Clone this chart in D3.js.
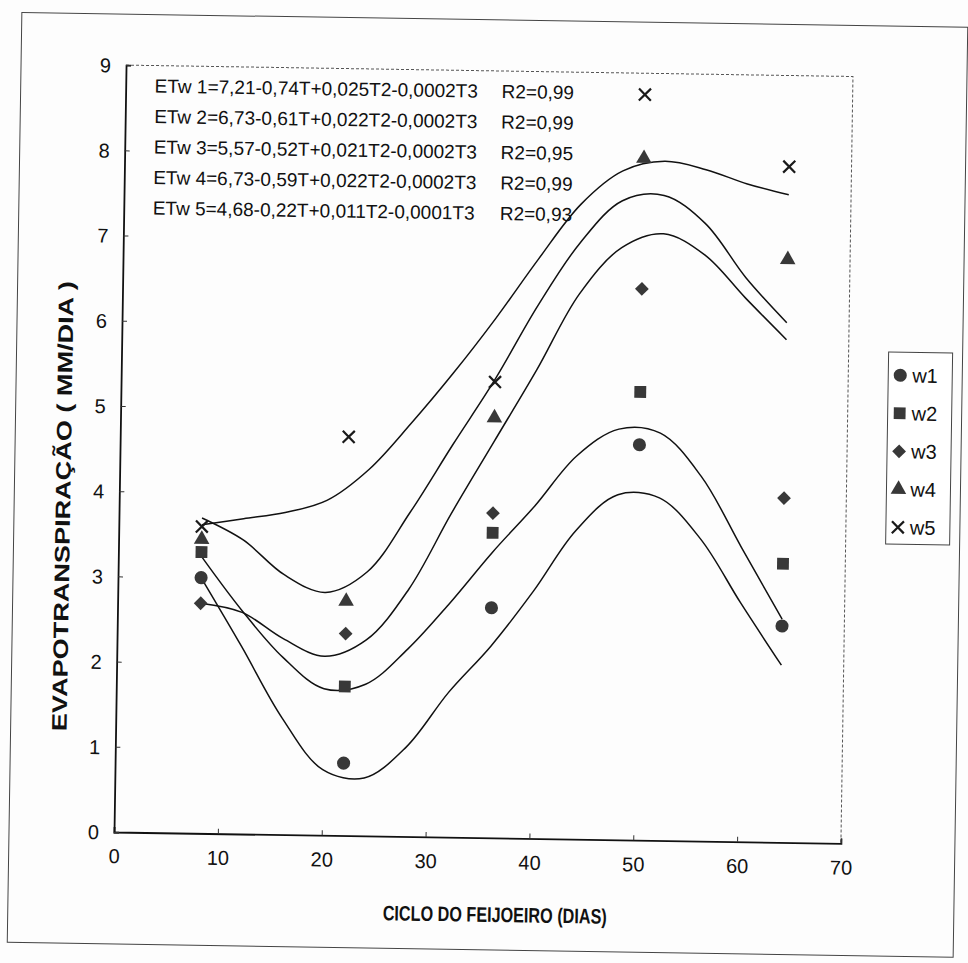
<!DOCTYPE html>
<html>
<head>
<meta charset="utf-8">
<script src="https://cdn.jsdelivr.net/npm/d3@7.9.0/dist/d3.min.js"></script>
<style>
  body { margin: 0; background: #fff; }
  svg { display: block; }
  text { font-family: "Liberation Sans", Arial, sans-serif; fill: #111; }
</style>
</head>
<body>
<svg id="chart" width="968" height="963"></svg>
<script>
// sampling days and measured ET (mm/dia) per treatment
const days = [8, 22, 36, 50, 64];
const w1 = [3.00, 0.85, 2.70, 4.64, 2.54];
const w2 = [3.30, 1.75, 3.58, 5.26, 3.27];
const w3 = [2.70, 2.37, 3.81, 6.47, 4.04];
const w4 = [3.45, 2.75, 4.93, 8.00, 6.84];
const w5 = [3.60, 4.68, 5.35, 8.75, 7.93];

// fitted curves
const fitDays = [8, 12, 16, 20, 24, 28, 32, 36, 40, 44, 48, 52, 56, 60, 64];
const fitW1 = [3.00, 2.20, 1.37, 0.77, 0.68, 1.05, 1.70, 2.25, 2.90, 3.62, 4.05, 4.02, 3.55, 2.80, 2.08];
const fitW2 = [3.25, 2.62, 2.08, 1.72, 1.78, 2.20, 2.75, 3.35, 3.90, 4.50, 4.82, 4.78, 4.28, 3.45, 2.62];
const fitW3 = [2.70, 2.60, 2.30, 2.10, 2.30, 2.90, 3.80, 4.65, 5.50, 6.40, 6.95, 7.12, 6.88, 6.38, 5.90];
const fitW4 = [3.70, 3.45, 3.05, 2.85, 3.10, 3.80, 4.60, 5.38, 6.25, 7.00, 7.50, 7.57, 7.25, 6.62, 6.10];
const fitW5 = [3.62, 3.70, 3.78, 3.93, 4.30, 4.85, 5.45, 6.10, 6.80, 7.45, 7.85, 7.97, 7.88, 7.72, 7.60];

const seriesNames = ["w1", "w2", "w3", "w4", "w5"];
const equations = [
  "ETw 1=7,21-0,74T+0,025T2-0,0002T3",
  "ETw 2=6,73-0,61T+0,022T2-0,0002T3",
  "ETw 3=5,57-0,52T+0,021T2-0,0002T3",
  "ETw 4=6,73-0,59T+0,022T2-0,0002T3",
  "ETw 5=4,68-0,22T+0,011T2-0,0001T3"
];
const r2Labels = ["R2=0,99", "R2=0,99", "R2=0,95", "R2=0,99", "R2=0,93"];
const xTicks = [0, 10, 20, 30, 40, 50, 60, 70];
const yTicks = [0, 1, 2, 3, 4, 5, 6, 7, 8, 9];

const svg = d3.select("#chart");
svg.append("rect").attr("width", 968).attr("height", 963).attr("fill", "#fdfdfd");

// the scan is tilted a little, so the whole page is drawn in a rotated group
const page = svg.append("g").attr("transform", "rotate(0.9, 114, 832)");

const x = d3.scaleLinear().domain([0, 70]).range([114, 841]);
const y = d3.scaleLinear().domain([0, 9]).range([832, 65]);

// outer frame of the figure
page.append("rect")
  .attr("x", 9).attr("y", 14).attr("width", 946).attr("height", 930)
  .attr("fill", "none").attr("stroke", "#444").attr("stroke-width", 1);

// plot area border (dashed, top and right)
page.append("path")
  .attr("d", `M${x(0)},${y(9)}H${x(70)}V${y(0)}`)
  .attr("fill", "none").attr("stroke", "#555").attr("stroke-width", 1)
  .attr("stroke-dasharray", "3,2");

// axes
const xAxis = d3.axisBottom(x).tickValues(xTicks).tickSize(-5).tickPadding(17);
const yAxis = d3.axisLeft(y).tickValues(yTicks).tickSize(-5).tickPadding(15);

const gx = page.append("g").attr("transform", `translate(0,${y(0)})`).call(xAxis);
const gy = page.append("g").attr("transform", `translate(${x(0)},0)`).call(yAxis);
[gx, gy].forEach(g => {
  g.select(".domain").attr("stroke", "#111").attr("stroke-width", 1.8);
  g.selectAll(".tick line").attr("stroke", "#333").attr("stroke-width", 1);
  g.selectAll(".tick text")
    .attr("font-size", 20).attr("fill", "#111")
    .attr("font-family", "'Liberation Sans', Arial, sans-serif");
});
gy.selectAll(".tick text").attr("dy", "0.35em");

// axis titles
page.append("text")
  .attr("x", 496).attr("y", 916)
  .attr("text-anchor", "middle")
  .attr("font-size", 21).attr("font-weight", "bold")
  .attr("textLength", 224).attr("lengthAdjust", "spacingAndGlyphs")
  .text("CICLO DO FEIJOEIRO (DIAS)");

page.append("text")
  .attr("transform", "translate(65,507) rotate(-90)")
  .attr("text-anchor", "middle")
  .attr("font-size", 21).attr("font-weight", "bold")
  .attr("textLength", 450).attr("lengthAdjust", "spacingAndGlyphs")
  .text("EVAPOTRANSPIRAÇÃO ( MM/DIA )");

// equations
equations.forEach((eq, i) => {
  const ty = 92 + i * 30.5;
  page.append("text").attr("x", 143).attr("y", ty).attr("font-size", 19).text(eq);
  page.append("text").attr("x", 490).attr("y", ty).attr("font-size", 19).text(r2Labels[i]);
});

// fitted curves
const fits = [fitW1, fitW2, fitW3, fitW4, fitW5];
const line = d3.line()
  .x(d => x(d[0]))
  .y(d => y(d[1]))
  .curve(d3.curveCatmullRom.alpha(0.5));

fits.forEach(f => {
  page.append("path")
    .attr("d", line(fitDays.map((t, i) => [t, f[i]])))
    .attr("fill", "none").attr("stroke", "#111").attr("stroke-width", 1.5);
});

// markers
const markColor = "#383838";
const shapes = [
  { type: d3.symbolCircle, size: 135, rot: 0 },
  { type: d3.symbolSquare, size: 140, rot: 0 },
  { type: d3.symbolSquare, size: 95, rot: 45 },
  { type: d3.symbolTriangle, size: 105, rot: 0 },
  { type: null }
];

function drawMarker(g, k, px, py) {
  const s = shapes[k];
  if (s.type) {
    g.append("path")
      .attr("d", d3.symbol().type(s.type).size(s.size)())
      .attr("transform", `translate(${px},${py}) rotate(${s.rot})`)
      .attr("fill", markColor);
  } else {
    g.append("path")
      .attr("d", "M-6,-6L6,6M6,-6L-6,6")
      .attr("transform", `translate(${px},${py})`)
      .attr("fill", "none").attr("stroke", "#1a1a1a").attr("stroke-width", 2.2);
  }
}

const series = [w1, w2, w3, w4, w5];
series.forEach((vals, k) => {
  vals.forEach((v, i) => drawMarker(page, k, x(days[i]), y(v)));
});

// legend
const legend = page.append("g").attr("transform", "translate(881,340)");
legend.append("rect")
  .attr("width", 64).attr("height", 192)
  .attr("fill", "#fff").attr("stroke", "#444").attr("stroke-width", 1);
seriesNames.forEach((name, k) => {
  const ly = 23 + k * 38;
  drawMarker(legend, k, 12, ly);
  legend.append("text")
    .attr("x", 24).attr("y", ly).attr("dy", "0.35em")
    .attr("font-size", 20).text(name);
});
</script>
</body>
</html>
